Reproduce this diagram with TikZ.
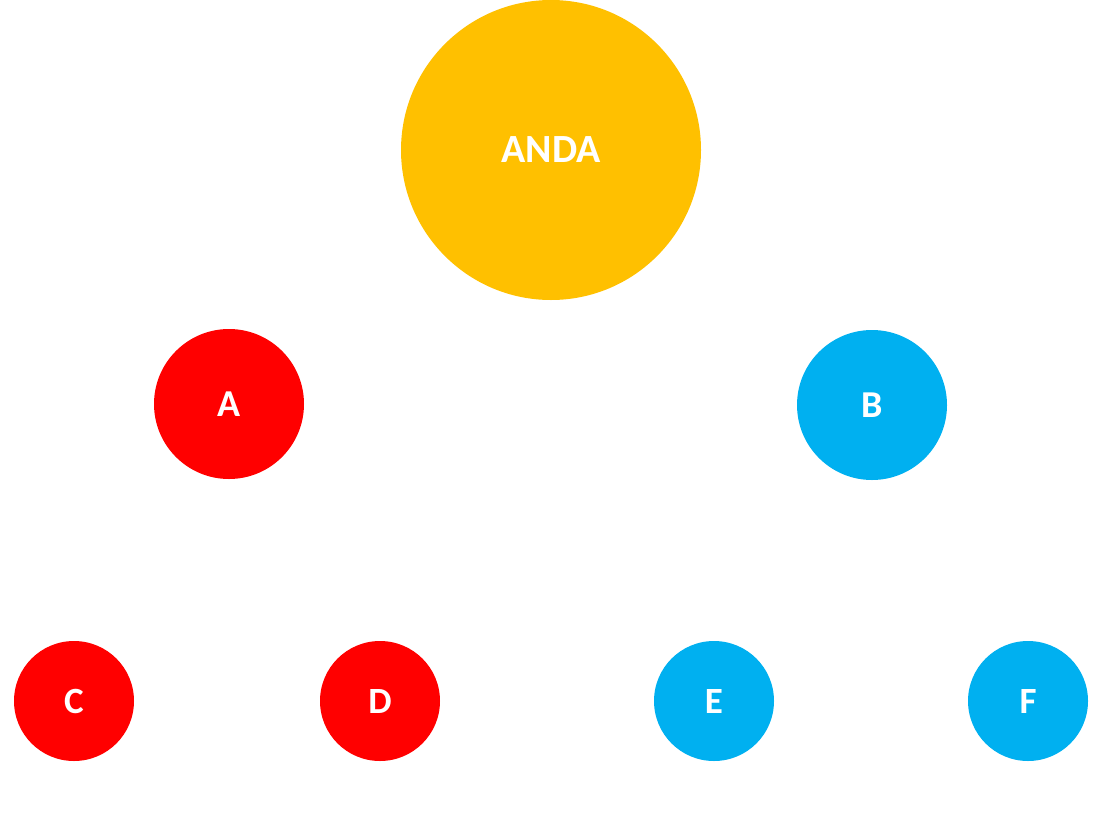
\documentclass[tikz,border=0pt]{standalone}
\usepackage{fontspec}
\setmainfont{Carlito}
\begin{document}
\begin{tikzpicture}[x=1pt,y=-1pt,
  ball/.style={circle,inner sep=0pt,text=white,font=\bfseries},
  big/.style={ball,fill=gold,minimum size=300pt,font=\bfseries\fontsize{40}{44}\selectfont},
  mid/.style={ball,minimum size=150pt,font=\bfseries\fontsize{38}{42}\selectfont},
  small/.style={ball,minimum size=120pt,font=\bfseries\fontsize{37}{41}\selectfont}]
\definecolor{gold}{HTML}{FFC000}
\definecolor{redc}{HTML}{FF0000}
\definecolor{bluec}{HTML}{00B0F0}
\useasboundingbox (0,0) rectangle (1100,838);
\node[big] (anda) at (551,150) {ANDA};
\node[mid,fill=redc] (a) at (229,404) {A};
\node[mid,fill=bluec] (b) at (872,405) {B};
\node[small,fill=redc] (c) at (74,701) {C};
\node[small,fill=redc] (d) at (380,701) {D};
\node[small,fill=bluec] (e) at (714,701) {E};
\node[small,fill=bluec] (f) at (1028,701) {F};
\end{tikzpicture}
\end{document}
